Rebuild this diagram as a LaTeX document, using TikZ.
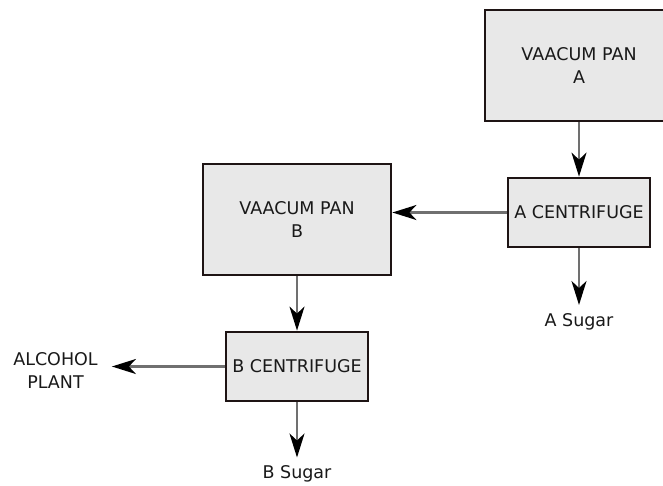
\documentclass[tikz,border=0pt]{standalone}
\usepackage{fontspec}
\setmainfont{DejaVu Sans}
\usetikzlibrary{arrows.meta}
\definecolor{boxfill}{HTML}{E8E8E8}
\definecolor{boxline}{HTML}{1E1414}
\definecolor{flowline}{HTML}{707070}
\tikzset{
  unit/.style={draw=boxline, line width=2.8pt, fill=boxfill, align=center, inner sep=0pt},
  pan/.style={unit, minimum width=188pt, minimum height=111pt},
  centrifuge/.style={unit, minimum width=142pt, minimum height=69pt},
  product/.style={align=center, inner sep=8pt},
  flow/.style={draw=flowline, line width=2.2pt, -{Stealth[black, length=24pt, width=15pt, inset=7pt]}}
}
\begin{document}
\begin{tikzpicture}[x=1pt, y=-1pt, font=\fontsize{17.5}{23}\selectfont, text=black!90]
			%%%%% START %%%%%
			\useasboundingbox (0, 0) rectangle (663, 485);
			
			\node[pan] (pana) at (579, 65.5) {VAACUM PAN\\A};
			\node[centrifuge] (acent) at (579, 212.5) {A CENTRIFUGE};
			\node[product] (asugar) at (579, 321.5) {A Sugar};
			
			\node[pan] (panb) at (297, 219.5) {VAACUM PAN\\B};
			\node[centrifuge] (bcent) at (297, 366.5) {B CENTRIFUGE};
			\node[product] (bsugar) at (297, 474) {B Sugar};
			\node[product, inner xsep=14pt] (alcohol) at (55.5, 370.5) {ALCOHOL\\PLANT};
			
			\draw[flow] (pana) -- (acent);
			\draw[flow] (acent) -- (asugar);
			\draw[flow] (acent.west) -- (panb.east |- acent.west);
			\draw[flow] (panb) -- (bcent);
			\draw[flow] (bcent) -- (bsugar);
			\draw[flow] (bcent.west) -- (alcohol.east |- bcent.west);
			
			%%%%% END %%%%%
		\end{tikzpicture}
\end{document}
